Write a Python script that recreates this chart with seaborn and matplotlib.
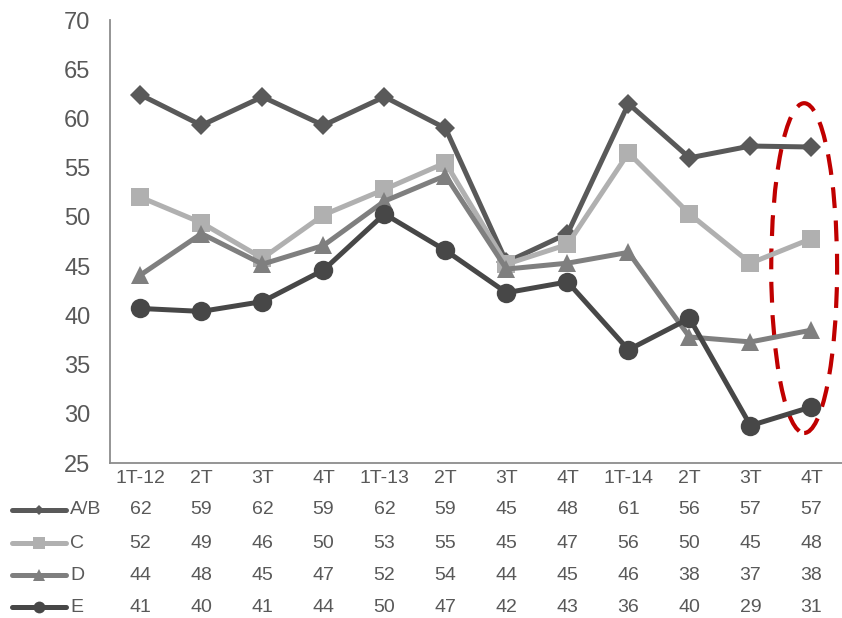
import matplotlib
matplotlib.use("Agg")
import matplotlib.pyplot as plt
from matplotlib.lines import Line2D
from matplotlib.patches import Ellipse
import matplotlib.transforms as mtransforms
import seaborn as sns
import pandas as pd

categories = ["1T-12", "2T", "3T", "4T", "1T-13", "2T", "3T", "4T", "1T-14", "2T", "3T", "4T"]
series_names = ["A/B", "C", "D", "E"]
ab = [62.4, 59.3, 62.2, 59.3, 62.2, 59.0, 45.4, 48.3, 61.5, 56.0, 57.2, 57.1]
c = [52.0, 49.4, 45.8, 50.2, 52.8, 55.5, 45.2, 47.2, 56.5, 50.3, 45.3, 47.8]
d = [44.1, 48.3, 45.2, 47.1, 51.6, 54.2, 44.7, 45.3, 46.4, 37.8, 37.3, 38.5]
e = [40.7, 40.4, 41.4, 44.6, 50.3, 46.6, 42.3, 43.4, 36.5, 39.7, 28.8, 30.7]
table_ab = [62, 59, 62, 59, 62, 59, 45, 48, 61, 56, 57, 57]
table_c = [52, 49, 46, 50, 53, 55, 45, 47, 56, 50, 45, 48]
table_d = [44, 48, 45, 47, 52, 54, 44, 45, 46, 38, 37, 38]
table_e = [41, 40, 41, 44, 50, 47, 42, 43, 36, 40, 29, 31]
y_ticks = [25, 30, 35, 40, 45, 50, 55, 60, 65, 70]

colors = {"A/B": "#595959", "C": "#b0b0b0", "D": "#7f7f7f", "E": "#474747"}
markers = {"A/B": "D", "C": "s", "D": "^", "E": "o"}
msizes = {"A/B": 10, "C": 12.5, "D": 13, "E": 14}
leg_msizes = {"A/B": 5.5, "C": 8, "D": 8, "E": 8.5}

sns.set_theme(style="white")
plt.rcParams["font.family"] = ["Liberation Sans", "DejaVu Sans"]

rows = []
for name, vals in zip(series_names, [ab, c, d, e]):
    for i, v in enumerate(vals):
        rows.append({"series": name, "x": i, "value": v})
df = pd.DataFrame(rows)

fig = plt.figure(figsize=(8.42, 6.18), dpi=100)
ax = fig.add_axes([0.1306, 0.2508, 0.8694, 0.7168])

for name in series_names:
    sub = df[df["series"] == name]
    sns.lineplot(data=sub, x="x", y="value", ax=ax, color=colors[name],
                 marker=markers[name], markersize=msizes[name],
                 markeredgewidth=0, linewidth=3.6, legend=False, sort=False)

ax.set_xlim(-0.5, 11.5)
ax.set_ylim(25, 70)
ax.set_yticks(y_ticks)
ax.set_yticklabels([str(t) for t in y_ticks], fontsize=17, color="#595959")
ax.set_xticks(range(len(categories)))
ax.set_xticklabels(categories, fontsize=14, color="#595959")
ax.tick_params(axis="y", length=0, pad=14)
ax.tick_params(axis="x", length=0, pad=5)
ax.set_xlabel("")
ax.set_ylabel("")
for s in ["top", "right"]:
    ax.spines[s].set_visible(False)
for s in ["left", "bottom"]:
    ax.spines[s].set_color("#8c8c8c")
    ax.spines[s].set_linewidth(1.3)

ell = Ellipse((10.88, 44.8), width=1.08, height=33.5, fill=False,
              edgecolor="#c00000", linewidth=3, linestyle=(0, (5, 3)), clip_on=False)
ax.add_patch(ell)

# data table below the chart
trans = mtransforms.blended_transform_factory(ax.transData, fig.transFigure)
row_y = [1 - 510 / 618, 1 - 543 / 618, 1 - 575 / 618, 1 - 607 / 618]
for name, vals, yy in zip(series_names, [table_ab, table_c, table_d, table_e], row_y):
    for i, v in enumerate(vals):
        ax.text(i, yy, str(v), transform=trans, ha="center", va="center",
                fontsize=14, color="#595959", clip_on=False)
    fig.add_artist(Line2D([12 / 842, 66 / 842], [yy, yy], transform=fig.transFigure,
                          color=colors[name], linewidth=3.6, solid_capstyle="round"))
    fig.add_artist(Line2D([39 / 842], [yy], transform=fig.transFigure,
                          color=colors[name], marker=markers[name],
                          markersize=leg_msizes[name], markeredgewidth=0, linestyle="none"))
    fig.text(70 / 842, yy, name, ha="left", va="center", fontsize=14, color="#595959")

fig.savefig("out.png", dpi=100)
